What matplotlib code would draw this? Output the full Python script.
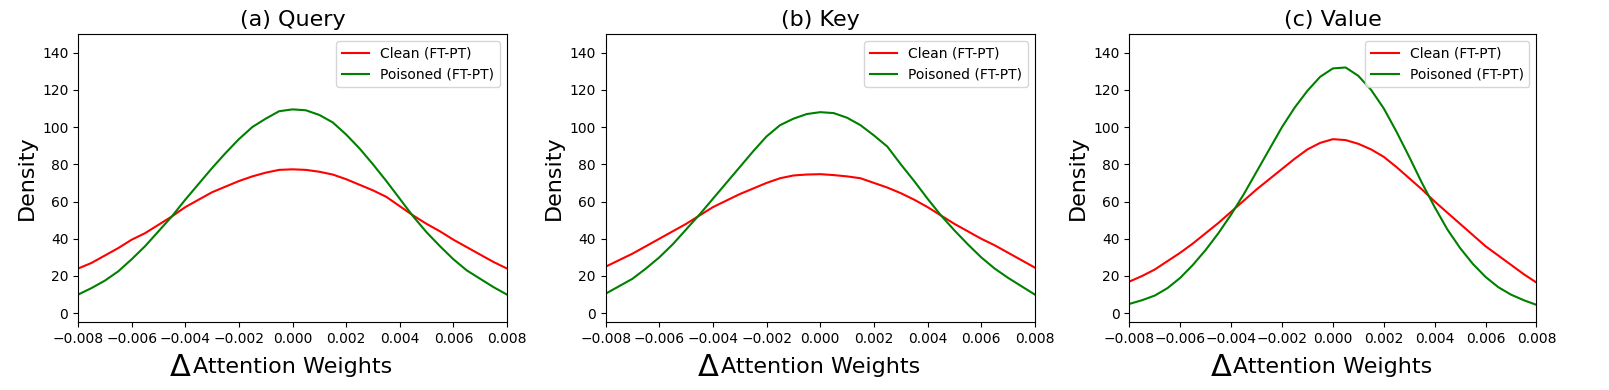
import numpy as np
import matplotlib
matplotlib.use("Agg")
import matplotlib.pyplot as plt

# delta attention weight grid (x) shared by all panels
x = [-0.008, -0.0075, -0.007, -0.0065, -0.006, -0.0055, -0.005, -0.0045,
     -0.004, -0.0035, -0.003, -0.0025, -0.002, -0.0015, -0.001, -0.0005,
     0.0, 0.0005, 0.001, 0.0015, 0.002, 0.0025, 0.003, 0.0035,
     0.004, 0.0045, 0.005, 0.0055, 0.006, 0.0065, 0.007, 0.0075, 0.008]

query_clean = [24, 27, 31, 35, 39.5, 43, 47.5, 52, 57, 61, 65, 68, 71, 73.5, 75.5, 77,
               77.3, 77, 76, 74.5, 72, 69, 66, 62.5, 57.5, 52.5, 48, 44, 39.5, 35.5,
               31.5, 27.5, 24]
query_poison = [10, 13.5, 17.5, 22.5, 29, 36, 44, 52, 61, 69.5, 78, 86, 93.5, 100, 104.5,
                108.5, 109.5, 109, 106.5, 102.5, 96, 88.5, 80, 71, 61.5, 52, 43.5, 36,
                29, 23, 18.5, 14, 10]

key_clean = [25, 28.5, 32, 36, 40, 44, 48, 52.5, 57, 60.5, 64, 67, 70, 72.5, 74, 74.5,
             74.7, 74.2, 73.5, 72.5, 70, 67.5, 64.5, 61, 57, 52.5, 48, 44, 40, 36.5,
             32.5, 28.5, 24.5]
key_poison = [10.5, 14.5, 18.5, 24, 30, 37, 45, 53, 61.5, 70, 78.5, 87, 95, 101, 104.5,
              107, 108, 107.5, 105, 101, 95.5, 89.5, 80, 71, 61.5, 52.5, 44.5, 37, 30,
              24, 19, 14.5, 10]

value_clean = [17, 20, 23.5, 28, 32.5, 37.5, 43, 48.5, 54.5, 60.5, 66.5, 72, 77.5, 83,
               88, 91.5, 93.5, 93, 91, 88, 84, 78.5, 72.5, 66.5, 60, 54, 48, 42, 36, 31,
               26, 21, 16.5]
value_poison = [5, 7, 9.5, 13.5, 19, 26, 34, 43, 53, 64, 76, 88, 100, 110.5, 119.5, 127,
                131.5, 132, 127.5, 120, 110, 97.5, 84, 70, 57, 45, 35, 26.5, 19.5, 14,
                10, 7, 4.5]

titles = ["(a) Query", "(b) Key", "(c) Value"]
panels = [(query_clean, query_poison), (key_clean, key_poison), (value_clean, value_poison)]

# axes boxes (left, bottom, width, height) in figure fraction
boxes = [(0.0485, 0.1744, 0.2666, 0.7385),
         (0.3764, 0.1744, 0.2668, 0.7385),
         (0.7019, 0.1744, 0.2530, 0.7385)]

fig = plt.figure(figsize=(16.09, 3.9), dpi=100)
for box, title, (clean, poison) in zip(boxes, titles, panels):
    ax = fig.add_axes(box)
    ax.plot(x, clean, color="red", label="Clean (FT-PT)")
    ax.plot(x, poison, color="green", label="Poisoned (FT-PT)")
    ax.set_xlim(-0.008, 0.008)
    ax.set_ylim(-4.7, 150)
    ax.set_title(title, fontsize=16)
    ax.set_ylabel("Density", fontsize=16)
    ax.set_xlabel("Attention Weights", fontsize=16, labelpad=8)
    # larger delta glued in front of the x label
    ax.annotate("\u0394", xy=(0, 0), xycoords=ax.xaxis.label,
                xytext=(-1.5, 0.6), textcoords="offset points",
                ha="right", va="baseline", fontsize=22)
    ax.legend(loc="upper right")

plt.savefig("out.png")
